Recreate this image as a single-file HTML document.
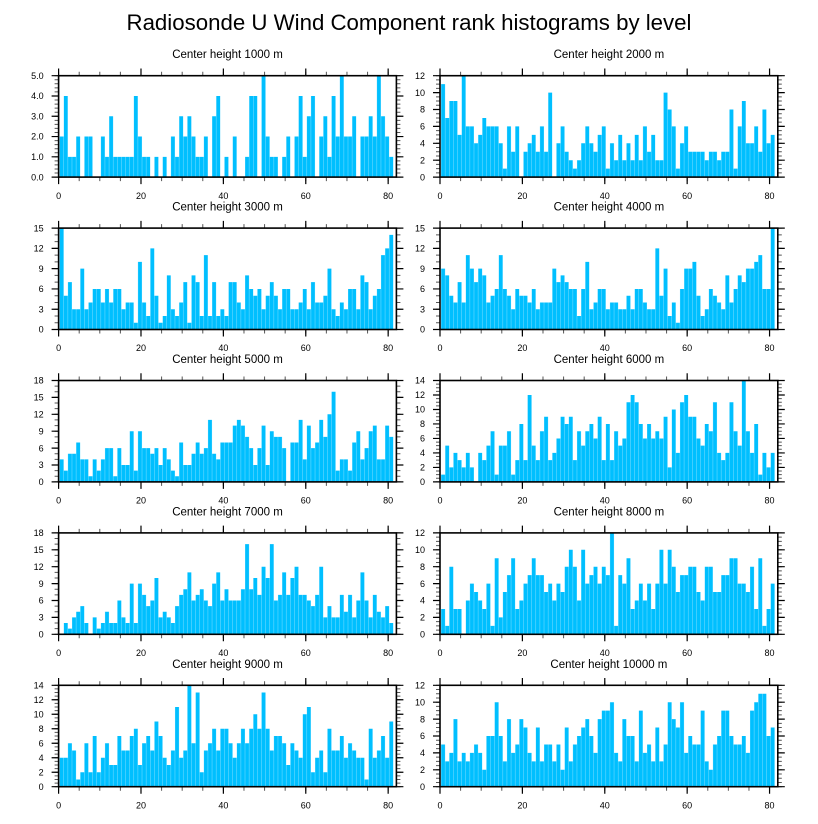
<!DOCTYPE html>
<html>
<head>
<meta charset="utf-8">
<style>
  html, body { margin: 0; padding: 0; background: #fff; }
  svg { display: block; }
  text { font-family: "Liberation Sans", Arial, Helvetica, sans-serif; fill: #000; }
  .tt { font-size: 11.5px; text-anchor: middle; }
  .yl text { font-size: 9px; text-anchor: end; }
  .xl text { font-size: 9px; text-anchor: middle; }
  .bar { fill: #00bfff; }
  .fr { fill: none; stroke: #000; stroke-width: 1.6; }
</style>
</head>
<body>
<svg width="818" height="824" viewBox="0 0 818 824" xmlns="http://www.w3.org/2000/svg">
<defs>
  <path id="sep" d="M0.783 50.7H334.96" fill="none" stroke="#fff" stroke-opacity="0.5" stroke-width="101.4" stroke-dasharray="0.494 3.6255"/>
  <g id="xt" fill="none">
    <path d="M-0.5 -2H339" stroke="#555" stroke-width="4" stroke-dasharray="1 19.5976"/>
    <path d="M-0.5 103.4H339" stroke="#555" stroke-width="4" stroke-dasharray="1 19.5976"/>
    <path d="M-0.6 -3.5H339" stroke="#000" stroke-width="7.5" stroke-dasharray="1.2 81.19"/>
    <path d="M-0.6 104.9H339" stroke="#000" stroke-width="7" stroke-dasharray="1.2 81.19"/>
  </g>
  <g id="yt5" fill="none">
    <path d="M-2 101.9V-1" stroke="#555" stroke-width="4" stroke-dasharray="1 3.056"/>
    <path d="M339.8 101.9V-1" stroke="#555" stroke-width="4" stroke-dasharray="1 3.056"/>
    <path d="M-3.5 102V-1" stroke="#000" stroke-width="7" stroke-dasharray="1.2 19.08"/>
    <path d="M341.3 102V-1" stroke="#000" stroke-width="7" stroke-dasharray="1.2 19.08"/>
  </g>
  <g id="yt12" fill="none">
    <path d="M-2 101.9V-1" stroke="#555" stroke-width="4" stroke-dasharray="1 3.225"/>
    <path d="M339.8 101.9V-1" stroke="#555" stroke-width="4" stroke-dasharray="1 3.225"/>
    <path d="M-3.5 102V-1" stroke="#000" stroke-width="7" stroke-dasharray="1.2 15.7"/>
    <path d="M341.3 102V-1" stroke="#000" stroke-width="7" stroke-dasharray="1.2 15.7"/>
  </g>
  <g id="yt14" fill="none">
    <path d="M-2 101.9V-1" stroke="#555" stroke-width="4" stroke-dasharray="1 2.62143"/>
    <path d="M339.8 101.9V-1" stroke="#555" stroke-width="4" stroke-dasharray="1 2.62143"/>
    <path d="M-3.5 102V-1" stroke="#000" stroke-width="7" stroke-dasharray="1.2 13.2857"/>
    <path d="M341.3 102V-1" stroke="#000" stroke-width="7" stroke-dasharray="1.2 13.2857"/>
  </g>
  <g id="yt15" fill="none">
    <path d="M-2 101.9V-1" stroke="#555" stroke-width="4" stroke-dasharray="1 5.76"/>
    <path d="M339.8 101.9V-1" stroke="#555" stroke-width="4" stroke-dasharray="1 5.76"/>
    <path d="M-3.5 102V-1" stroke="#000" stroke-width="7" stroke-dasharray="1.2 19.08"/>
    <path d="M341.3 102V-1" stroke="#000" stroke-width="7" stroke-dasharray="1.2 19.08"/>
  </g>
  <g id="yt18" fill="none">
    <path d="M-2 101.9V-1" stroke="#555" stroke-width="4" stroke-dasharray="1 4.63333"/>
    <path d="M339.8 101.9V-1" stroke="#555" stroke-width="4" stroke-dasharray="1 4.63333"/>
    <path d="M-3.5 102V-1" stroke="#000" stroke-width="7" stroke-dasharray="1.2 15.7"/>
    <path d="M341.3 102V-1" stroke="#000" stroke-width="7" stroke-dasharray="1.2 15.7"/>
  </g>
</defs>

<text x="409" y="30" font-size="22" text-anchor="middle" textLength="565" lengthAdjust="spacingAndGlyphs">Radiosonde U Wind Component rank histograms by level</text>

<!-- Panel 1: 1000 m -->
<g transform="translate(58.6,75.7)">
  <g transform="translate(0,101.4) scale(4.11951,-20.28)"><path class="bar" d="M0.25 0V2h1V4h1V1h1V1h1V2h1V0h1V2h1V2h1V0h1V0h1 V2h1V1h1V3h1V1h1V1h1V1h1V1h1V1h1V4h1V2h1 V1h1V1h1V0h1V1h1V0h1V1h1V0h1V2h1V1h1V3h1 V2h1V3h1V2h1V1h1V1h1V2h1V0h1V3h1V4h1V0h1 V1h1V0h1V2h1V0h1V0h1V1h1V4h1V4h1V0h1V5h1 V2h1V1h1V1h1V0h1V1h1V2h1V0h1V2h1V4h1V1h1 V3h1V4h1V0h1V2h1V3h1V1h1V4h1V2h1V5h1V2h1 V2h1V3h1V0h1V2h1V2h1V3h1V2h1V5h1V3h1V2h1 V1h1V0Z"/></g>
  <use href="#sep"/>
  <use href="#xt"/>
  <use href="#yt5"/>
  <rect class="fr" width="337.8" height="101.4"/>
  <text class="tt" x="168.9" y="-17.5">Center height 1000 m</text>
  <g class="yl"><text x="-15" y="104.6">0.0</text><text x="-15" y="84.32">1.0</text><text x="-15" y="64.04">2.0</text><text x="-15" y="43.76">3.0</text><text x="-15" y="23.48">4.0</text><text x="-15" y="3.2">5.0</text></g>
  <g class="xl"><text x="0" y="123.1">0</text><text x="82.39" y="123.1">20</text><text x="164.78" y="123.1">40</text><text x="247.17" y="123.1">60</text><text x="329.56" y="123.1">80</text></g>
</g>

<!-- Panel 2: 2000 m -->
<g transform="translate(440,75.7)">
  <g transform="translate(0,101.4) scale(4.11951,-8.45)"><path class="bar" d="M0.25 0V11h1V7h1V9h1V9h1V5h1V12h1V6h1V6h1V4h1V5h1 V7h1V6h1V6h1V6h1V4h1V1h1V6h1V3h1V6h1V0h1 V3h1V4h1V5h1V3h1V6h1V3h1V10h1V0h1V4h1V6h1 V3h1V2h1V1h1V2h1V4h1V6h1V4h1V3h1V5h1V6h1 V1h1V4h1V2h1V5h1V2h1V4h1V2h1V5h1V2h1V6h1 V3h1V5h1V2h1V2h1V10h1V8h1V6h1V1h1V4h1V6h1 V3h1V3h1V3h1V3h1V2h1V3h1V3h1V2h1V3h1V3h1 V8h1V1h1V6h1V9h1V4h1V4h1V6h1V3h1V8h1V4h1 V5h1V0Z"/></g>
  <use href="#sep"/>
  <use href="#xt"/>
  <use href="#yt12"/>
  <rect class="fr" width="337.8" height="101.4"/>
  <text class="tt" x="168.9" y="-17.5">Center height 2000 m</text>
  <g class="yl"><text x="-15" y="104.6">0</text><text x="-15" y="87.7">2</text><text x="-15" y="70.8">4</text><text x="-15" y="53.9">6</text><text x="-15" y="37.0">8</text><text x="-15" y="20.1">10</text><text x="-15" y="3.2">12</text></g>
  <g class="xl"><text x="0" y="123.1">0</text><text x="82.39" y="123.1">20</text><text x="164.78" y="123.1">40</text><text x="247.17" y="123.1">60</text><text x="329.56" y="123.1">80</text></g>
</g>

<!-- Panel 3: 3000 m -->
<g transform="translate(58.6,228.1)">
  <g transform="translate(0,101.4) scale(4.11951,-6.76)"><path class="bar" d="M0.25 0V15h1V5h1V7h1V3h1V3h1V9h1V3h1V4h1V6h1V6h1 V4h1V6h1V4h1V6h1V6h1V3h1V4h1V4h1V1h1V10h1 V4h1V2h1V12h1V5h1V1h1V2h1V8h1V3h1V2h1V4h1 V7h1V1h1V8h1V7h1V2h1V11h1V2h1V7h1V2h1V3h1 V2h1V7h1V7h1V4h1V3h1V8h1V6h1V5h1V6h1V3h1 V5h1V7h1V5h1V3h1V6h1V6h1V3h1V3h1V4h1V6h1 V3h1V7h1V4h1V4h1V5h1V9h1V3h1V2h1V4h1V3h1 V6h1V6h1V3h1V8h1V7h1V3h1V5h1V6h1V11h1V12h1 V14h1V0Z"/></g>
  <use href="#sep"/>
  <use href="#xt"/>
  <use href="#yt15"/>
  <rect class="fr" width="337.8" height="101.4"/>
  <text class="tt" x="168.9" y="-17.5">Center height 3000 m</text>
  <g class="yl"><text x="-15" y="104.6">0</text><text x="-15" y="84.32">3</text><text x="-15" y="64.04">6</text><text x="-15" y="43.76">9</text><text x="-15" y="23.48">12</text><text x="-15" y="3.2">15</text></g>
  <g class="xl"><text x="0" y="123.1">0</text><text x="82.39" y="123.1">20</text><text x="164.78" y="123.1">40</text><text x="247.17" y="123.1">60</text><text x="329.56" y="123.1">80</text></g>
</g>

<!-- Panel 4: 4000 m -->
<g transform="translate(440,228.1)">
  <g transform="translate(0,101.4) scale(4.11951,-6.76)"><path class="bar" d="M0.25 0V9h1V8h1V5h1V4h1V7h1V4h1V11h1V9h1V7h1V9h1 V8h1V4h1V5h1V6h1V11h1V6h1V5h1V3h1V6h1V5h1 V5h1V4h1V6h1V3h1V4h1V4h1V4h1V9h1V7h1V8h1 V7h1V6h1V6h1V2h1V6h1V10h1V3h1V4h1V6h1V6h1 V3h1V4h1V4h1V3h1V3h1V5h1V3h1V6h1V6h1V4h1 V3h1V3h1V12h1V5h1V9h1V2h1V4h1V1h1V6h1V9h1 V9h1V10h1V5h1V2h1V3h1V6h1V5h1V4h1V3h1V8h1 V4h1V6h1V8h1V7h1V9h1V9h1V10h1V11h1V6h1V6h1 V15h1V0Z"/></g>
  <use href="#sep"/>
  <use href="#xt"/>
  <use href="#yt15"/>
  <rect class="fr" width="337.8" height="101.4"/>
  <text class="tt" x="168.9" y="-17.5">Center height 4000 m</text>
  <g class="yl"><text x="-15" y="104.6">0</text><text x="-15" y="84.32">3</text><text x="-15" y="64.04">6</text><text x="-15" y="43.76">9</text><text x="-15" y="23.48">12</text><text x="-15" y="3.2">15</text></g>
  <g class="xl"><text x="0" y="123.1">0</text><text x="82.39" y="123.1">20</text><text x="164.78" y="123.1">40</text><text x="247.17" y="123.1">60</text><text x="329.56" y="123.1">80</text></g>
</g>

<!-- Panel 5: 5000 m -->
<g transform="translate(58.6,380.5)">
  <g transform="translate(0,101.4) scale(4.11951,-5.633333)"><path class="bar" d="M0.25 0V4h1V2h1V5h1V5h1V7h1V4h1V4h1V1h1V4h1V2h1 V4h1V6h1V6h1V1h1V6h1V3h1V3h1V9h1V2h1V9h1 V6h1V6h1V5h1V6h1V3h1V6h1V4h1V2h1V1h1V7h1 V3h1V3h1V5h1V7h1V5h1V6h1V11h1V5h1V4h1V7h1 V7h1V7h1V10h1V11h1V10h1V8h1V6h1V3h1V6h1V10h1 V3h1V9h1V8h1V8h1V6h1V0h1V7h1V7h1V11h1V4h1 V10h1V6h1V7h1V11h1V8h1V12h1V16h1V2h1V4h1V4h1 V2h1V7h1V9h1V4h1V6h1V9h1V10h1V4h1V4h1V10h1 V8h1V0Z"/></g>
  <use href="#sep"/>
  <use href="#xt"/>
  <use href="#yt18"/>
  <rect class="fr" width="337.8" height="101.4"/>
  <text class="tt" x="168.9" y="-17.5">Center height 5000 m</text>
  <g class="yl"><text x="-15" y="104.6">0</text><text x="-15" y="87.7">3</text><text x="-15" y="70.8">6</text><text x="-15" y="53.9">9</text><text x="-15" y="37.0">12</text><text x="-15" y="20.1">15</text><text x="-15" y="3.2">18</text></g>
  <g class="xl"><text x="0" y="123.1">0</text><text x="82.39" y="123.1">20</text><text x="164.78" y="123.1">40</text><text x="247.17" y="123.1">60</text><text x="329.56" y="123.1">80</text></g>
</g>

<!-- Panel 6: 6000 m -->
<g transform="translate(440,380.5)">
  <g transform="translate(0,101.4) scale(4.11951,-7.242857)"><path class="bar" d="M0.25 0V1h1V5h1V2h1V4h1V3h1V2h1V4h1V2h1V0h1V4h1 V3h1V5h1V7h1V1h1V5h1V5h1V7h1V1h1V3h1V8h1 V3h1V12h1V5h1V3h1V7h1V9h1V3h1V4h1V6h1V9h1 V8h1V9h1V3h1V7h1V5h1V7h1V8h1V6h1V9h1V3h1 V8h1V3h1V7h1V5h1V6h1V11h1V12h1V11h1V8h1V6h1 V8h1V6h1V7h1V6h1V9h1V2h1V10h1V4h1V11h1V12h1 V9h1V9h1V6h1V5h1V8h1V7h1V11h1V4h1V3h1V4h1 V11h1V7h1V5h1V14h1V7h1V4h1V8h1V1h1V4h1V2h1 V4h1V0Z"/></g>
  <use href="#sep"/>
  <use href="#xt"/>
  <use href="#yt14"/>
  <rect class="fr" width="337.8" height="101.4"/>
  <text class="tt" x="168.9" y="-17.5">Center height 6000 m</text>
  <g class="yl"><text x="-15" y="104.6">0</text><text x="-15" y="90.11">2</text><text x="-15" y="75.63">4</text><text x="-15" y="61.14">6</text><text x="-15" y="46.66">8</text><text x="-15" y="32.17">10</text><text x="-15" y="17.69">12</text><text x="-15" y="3.2">14</text></g>
  <g class="xl"><text x="0" y="123.1">0</text><text x="82.39" y="123.1">20</text><text x="164.78" y="123.1">40</text><text x="247.17" y="123.1">60</text><text x="329.56" y="123.1">80</text></g>
</g>

<!-- Panel 7: 7000 m -->
<g transform="translate(58.6,532.9)">
  <g transform="translate(0,101.4) scale(4.11951,-5.633333)"><path class="bar" d="M0.25 0V0h1V2h1V1h1V3h1V4h1V5h1V2h1V0h1V3h1V1h1 V2h1V4h1V2h1V2h1V6h1V3h1V2h1V9h1V2h1V9h1 V7h1V5h1V6h1V10h1V3h1V4h1V3h1V2h1V5h1V7h1 V8h1V11h1V6h1V7h1V8h1V6h1V5h1V9h1V11h1V6h1 V8h1V6h1V6h1V6h1V8h1V16h1V8h1V10h1V7h1V12h1 V10h1V16h1V6h1V7h1V11h1V7h1V10h1V12h1V7h1V7h1 V6h1V5h1V7h1V12h1V3h1V5h1V3h1V3h1V7h1V4h1 V7h1V3h1V6h1V11h1V6h1V3h1V7h1V4h1V3h1V5h1 V2h1V0Z"/></g>
  <use href="#sep"/>
  <use href="#xt"/>
  <use href="#yt18"/>
  <rect class="fr" width="337.8" height="101.4"/>
  <text class="tt" x="168.9" y="-17.5">Center height 7000 m</text>
  <g class="yl"><text x="-15" y="104.6">0</text><text x="-15" y="87.7">3</text><text x="-15" y="70.8">6</text><text x="-15" y="53.9">9</text><text x="-15" y="37.0">12</text><text x="-15" y="20.1">15</text><text x="-15" y="3.2">18</text></g>
  <g class="xl"><text x="0" y="123.1">0</text><text x="82.39" y="123.1">20</text><text x="164.78" y="123.1">40</text><text x="247.17" y="123.1">60</text><text x="329.56" y="123.1">80</text></g>
</g>

<!-- Panel 8: 8000 m -->
<g transform="translate(440,532.9)">
  <g transform="translate(0,101.4) scale(4.11951,-8.45)"><path class="bar" d="M0.25 0V3h1V1h1V8h1V3h1V3h1V0h1V4h1V6h1V5h1V4h1 V3h1V6h1V1h1V9h1V2h1V5h1V7h1V9h1V3h1V4h1 V6h1V7h1V9h1V7h1V7h1V5h1V6h1V4h1V6h1V5h1 V8h1V10h1V8h1V4h1V10h1V6h1V7h1V8h1V6h1V8h1 V7h1V12h1V1h1V7h1V6h1V9h1V3h1V4h1V6h1V4h1 V6h1V3h1V6h1V10h1V6h1V10h1V8h1V5h1V7h1V7h1 V8h1V8h1V5h1V4h1V8h1V8h1V5h1V5h1V7h1V7h1 V9h1V9h1V6h1V6h1V5h1V8h1V3h1V9h1V1h1V3h1 V6h1V0Z"/></g>
  <use href="#sep"/>
  <use href="#xt"/>
  <use href="#yt12"/>
  <rect class="fr" width="337.8" height="101.4"/>
  <text class="tt" x="168.9" y="-17.5">Center height 8000 m</text>
  <g class="yl"><text x="-15" y="104.6">0</text><text x="-15" y="87.7">2</text><text x="-15" y="70.8">4</text><text x="-15" y="53.9">6</text><text x="-15" y="37.0">8</text><text x="-15" y="20.1">10</text><text x="-15" y="3.2">12</text></g>
  <g class="xl"><text x="0" y="123.1">0</text><text x="82.39" y="123.1">20</text><text x="164.78" y="123.1">40</text><text x="247.17" y="123.1">60</text><text x="329.56" y="123.1">80</text></g>
</g>

<!-- Panel 9: 9000 m -->
<g transform="translate(58.6,685.3)">
  <g transform="translate(0,101.4) scale(4.11951,-7.242857)"><path class="bar" d="M0.25 0V4h1V4h1V6h1V5h1V1h1V2h1V6h1V2h1V7h1V2h1 V4h1V6h1V3h1V3h1V7h1V5h1V5h1V7h1V8h1V3h1 V6h1V7h1V5h1V9h1V7h1V4h1V3h1V5h1V11h1V4h1 V5h1V14h1V6h1V13h1V2h1V5h1V6h1V8h1V5h1V8h1 V8h1V6h1V4h1V6h1V8h1V6h1V8h1V10h1V8h1V13h1 V8h1V5h1V7h1V7h1V6h1V3h1V6h1V5h1V4h1V10h1 V11h1V2h1V4h1V5h1V2h1V8h1V5h1V5h1V7h1V4h1 V6h1V5h1V4h1V4h1V1h1V8h1V4h1V5h1V7h1V4h1 V9h1V0Z"/></g>
  <use href="#sep"/>
  <use href="#xt"/>
  <use href="#yt14"/>
  <rect class="fr" width="337.8" height="101.4"/>
  <text class="tt" x="168.9" y="-17.5">Center height 9000 m</text>
  <g class="yl"><text x="-15" y="104.6">0</text><text x="-15" y="90.11">2</text><text x="-15" y="75.63">4</text><text x="-15" y="61.14">6</text><text x="-15" y="46.66">8</text><text x="-15" y="32.17">10</text><text x="-15" y="17.69">12</text><text x="-15" y="3.2">14</text></g>
  <g class="xl"><text x="0" y="123.1">0</text><text x="82.39" y="123.1">20</text><text x="164.78" y="123.1">40</text><text x="247.17" y="123.1">60</text><text x="329.56" y="123.1">80</text></g>
</g>

<!-- Panel 10: 10000 m -->
<g transform="translate(440,685.3)">
  <g transform="translate(0,101.4) scale(4.11951,-8.45)"><path class="bar" d="M0.25 0V5h1V3h1V4h1V8h1V3h1V4h1V3h1V4h1V5h1V4h1 V2h1V6h1V6h1V10h1V6h1V3h1V8h1V4h1V5h1V8h1 V7h1V4h1V3h1V7h1V3h1V5h1V5h1V3h1V5h1V2h1 V7h1V3h1V5h1V6h1V7h1V8h1V6h1V4h1V8h1V9h1 V9h1V10h1V4h1V3h1V8h1V6h1V6h1V3h1V9h1V4h1 V5h1V3h1V7h1V3h1V5h1V10h1V8h1V7h1V10h1V4h1 V6h1V5h1V5h1V9h1V3h1V2h1V5h1V6h1V9h1V9h1 V6h1V5h1V5h1V6h1V4h1V9h1V10h1V11h1V11h1V6h1 V7h1V0Z"/></g>
  <use href="#sep"/>
  <use href="#xt"/>
  <use href="#yt12"/>
  <rect class="fr" width="337.8" height="101.4"/>
  <text class="tt" x="168.9" y="-17.5">Center height 10000 m</text>
  <g class="yl"><text x="-15" y="104.6">0</text><text x="-15" y="87.7">2</text><text x="-15" y="70.8">4</text><text x="-15" y="53.9">6</text><text x="-15" y="37.0">8</text><text x="-15" y="20.1">10</text><text x="-15" y="3.2">12</text></g>
  <g class="xl"><text x="0" y="123.1">0</text><text x="82.39" y="123.1">20</text><text x="164.78" y="123.1">40</text><text x="247.17" y="123.1">60</text><text x="329.56" y="123.1">80</text></g>
</g>
</svg>
</body>
</html>
